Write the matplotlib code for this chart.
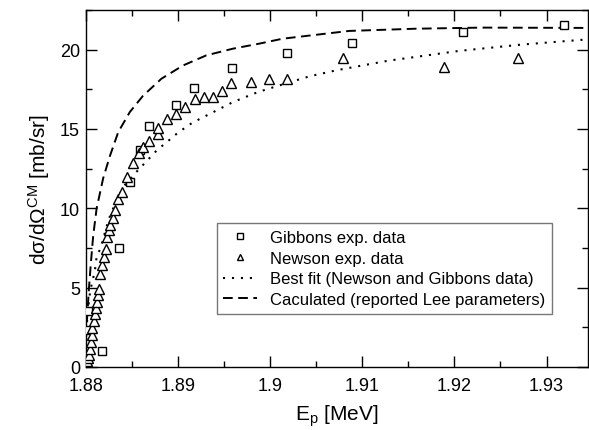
import matplotlib
matplotlib.use("Agg")
import matplotlib.pyplot as plt
from matplotlib.ticker import MultipleLocator, FormatStrFormatter

plt.rcParams['font.family'] = ['Liberation Sans', 'DejaVu Sans']
plt.rcParams['mathtext.fontset'] = 'custom'
plt.rcParams['mathtext.rm'] = 'Liberation Sans'
plt.rcParams['mathtext.it'] = 'Liberation Sans'

# Gibbons exp. data (squares)
gib_e = [1.8802, 1.8803, 1.8818, 1.8836, 1.8848, 1.8859, 1.8869, 1.8898,
         1.8918, 1.8959, 1.9018, 1.9089, 1.9209, 1.9319]
gib_s = [2.3, 3.5, 1.0, 7.5, 11.63, 13.65, 15.16, 16.49,
         17.6, 18.86, 19.79, 20.42, 21.13, 21.53]

# Newson exp. data (triangles)
new_e = [1.8802, 1.8803, 1.8804, 1.8805, 1.8806, 1.8807, 1.8807, 1.8809,
         1.8810, 1.8811, 1.8812, 1.8814, 1.8815, 1.8816, 1.8818, 1.8820,
         1.8822, 1.8823, 1.8825, 1.8827, 1.8830, 1.8832, 1.8835, 1.8840,
         1.8845, 1.8851, 1.8858, 1.8862, 1.8869, 1.8879, 1.8879, 1.8888,
         1.8898, 1.8908, 1.8919, 1.8928, 1.8938, 1.8948, 1.8958, 1.8979,
         1.8999, 1.9018, 1.9079, 1.9189, 1.9269]
new_s = [0.4, 0.55, 0.76, 1.14, 1.56, 2.02, 2.44, 2.88,
         3.32, 3.7, 4.08, 4.54, 4.92, 5.85, 6.45, 6.94,
         7.44, 8.18, 8.62, 8.98, 9.4, 9.9, 10.6, 11.06,
         11.99, 12.83, 13.46, 13.86, 14.26, 14.7, 15.06, 15.65,
         15.94, 16.38, 16.9, 16.99, 16.99, 17.37, 17.88, 17.96,
         18.13, 18.13, 19.48, 18.93, 19.48]

# Best fit curve
fit_e = [1.88, 1.88005, 1.8802, 1.8805, 1.8809, 1.8811, 1.8812, 1.8816,
         1.8825, 1.8835, 1.8843, 1.8852, 1.8865, 1.8878, 1.8886, 1.8900,
         1.8916, 1.8935, 1.8960, 1.8987, 1.9016, 1.9043, 1.9072, 1.9100,
         1.9128, 1.9205, 1.9273, 1.9345]
fit_s = [0.0, 1.5, 3.3, 4.8, 5.8, 6.4, 7.0, 7.44,
         9.3, 10.7, 11.5, 12.1, 12.9, 13.7, 14.07, 14.76,
         15.4, 15.96, 16.7, 17.33, 17.85, 18.32, 18.7, 19.0,
         19.3, 19.92, 20.32, 20.65]

# Calculated curve, reported Lee parameters
calc_e = [1.88, 1.88002, 1.88008, 1.88037, 1.88058, 1.88083, 1.8812, 1.88191,
          1.88264, 1.88354, 1.8848, 1.88624, 1.88823, 1.89056, 1.89309, 1.89597,
          1.89885, 1.90137, 1.90858, 1.91579, 1.923, 1.9345]
calc_s = [0.0, 1.0, 2.3, 5.0, 6.6, 8.3, 10.0, 11.9,
          13.3, 14.8, 16.07, 17.1, 18.17, 19.0, 19.64, 20.06,
          20.38, 20.69, 21.18, 21.32, 21.39, 21.37]

fig = plt.figure(figsize=(5.89, 4.31), dpi=100)
ax = fig.add_axes([0.1453, 0.1462, 0.8530, 0.8283])

ax.plot(gib_e, gib_s, linestyle='none', marker='s', markersize=5.5,
        markerfacecolor='white', markeredgecolor='black', markeredgewidth=1.0,
        label='Gibbons exp. data', zorder=3)
ax.plot(new_e, new_s, linestyle='none', marker='^', markersize=6.5,
        markerfacecolor='white', markeredgecolor='black', markeredgewidth=1.0,
        label='Newson exp. data', zorder=3)
ax.plot(fit_e, fit_s, color='black', lw=1.5, linestyle=(0, (1, 3.3)),
        label='Best fit (Newson and Gibbons data)', zorder=2)
ax.plot(calc_e, calc_s, color='black', lw=1.4, linestyle=(0, (5, 2.8)),
        label='Caculated (reported Lee parameters)', zorder=2)

ax.set_xlim(1.88, 1.9345)
ax.set_ylim(0, 22.5)
ax.xaxis.set_major_locator(MultipleLocator(0.01))
ax.xaxis.set_minor_locator(MultipleLocator(0.005))
ax.yaxis.set_major_locator(MultipleLocator(5))
ax.yaxis.set_minor_locator(MultipleLocator(2.5))
ax.xaxis.set_major_formatter(FormatStrFormatter('%g'))
ax.tick_params(which='both', direction='in', top=True, right=True,
               labelsize=13, width=1.0)
ax.tick_params(which='major', length=8)
ax.tick_params(axis='x', which='major', pad=7)
ax.tick_params(axis='y', which='major', pad=4)
ax.tick_params(which='minor', length=4)
for sp in ax.spines.values():
    sp.set_linewidth(1.0)

ax.set_xlabel(r'E$_\mathrm{p}$ [MeV]', fontsize=15, labelpad=6)
ax.set_ylabel(r'd$\sigma$/d$\Omega^\mathrm{CM}$ [mb/sr]', fontsize=15, labelpad=6)

leg = ax.legend(loc='upper left', bbox_to_anchor=(0.261, 0.403),
                fontsize=12, frameon=True, fancybox=False, markerscale=0.75,
                handlelength=2.0, handletextpad=0.8, borderpad=0.4,
                labelspacing=0.35, borderaxespad=0)
leg.get_frame().set_edgecolor('#555555')
leg.get_frame().set_linewidth(1.0)

fig.savefig('out.png', dpi=100)
